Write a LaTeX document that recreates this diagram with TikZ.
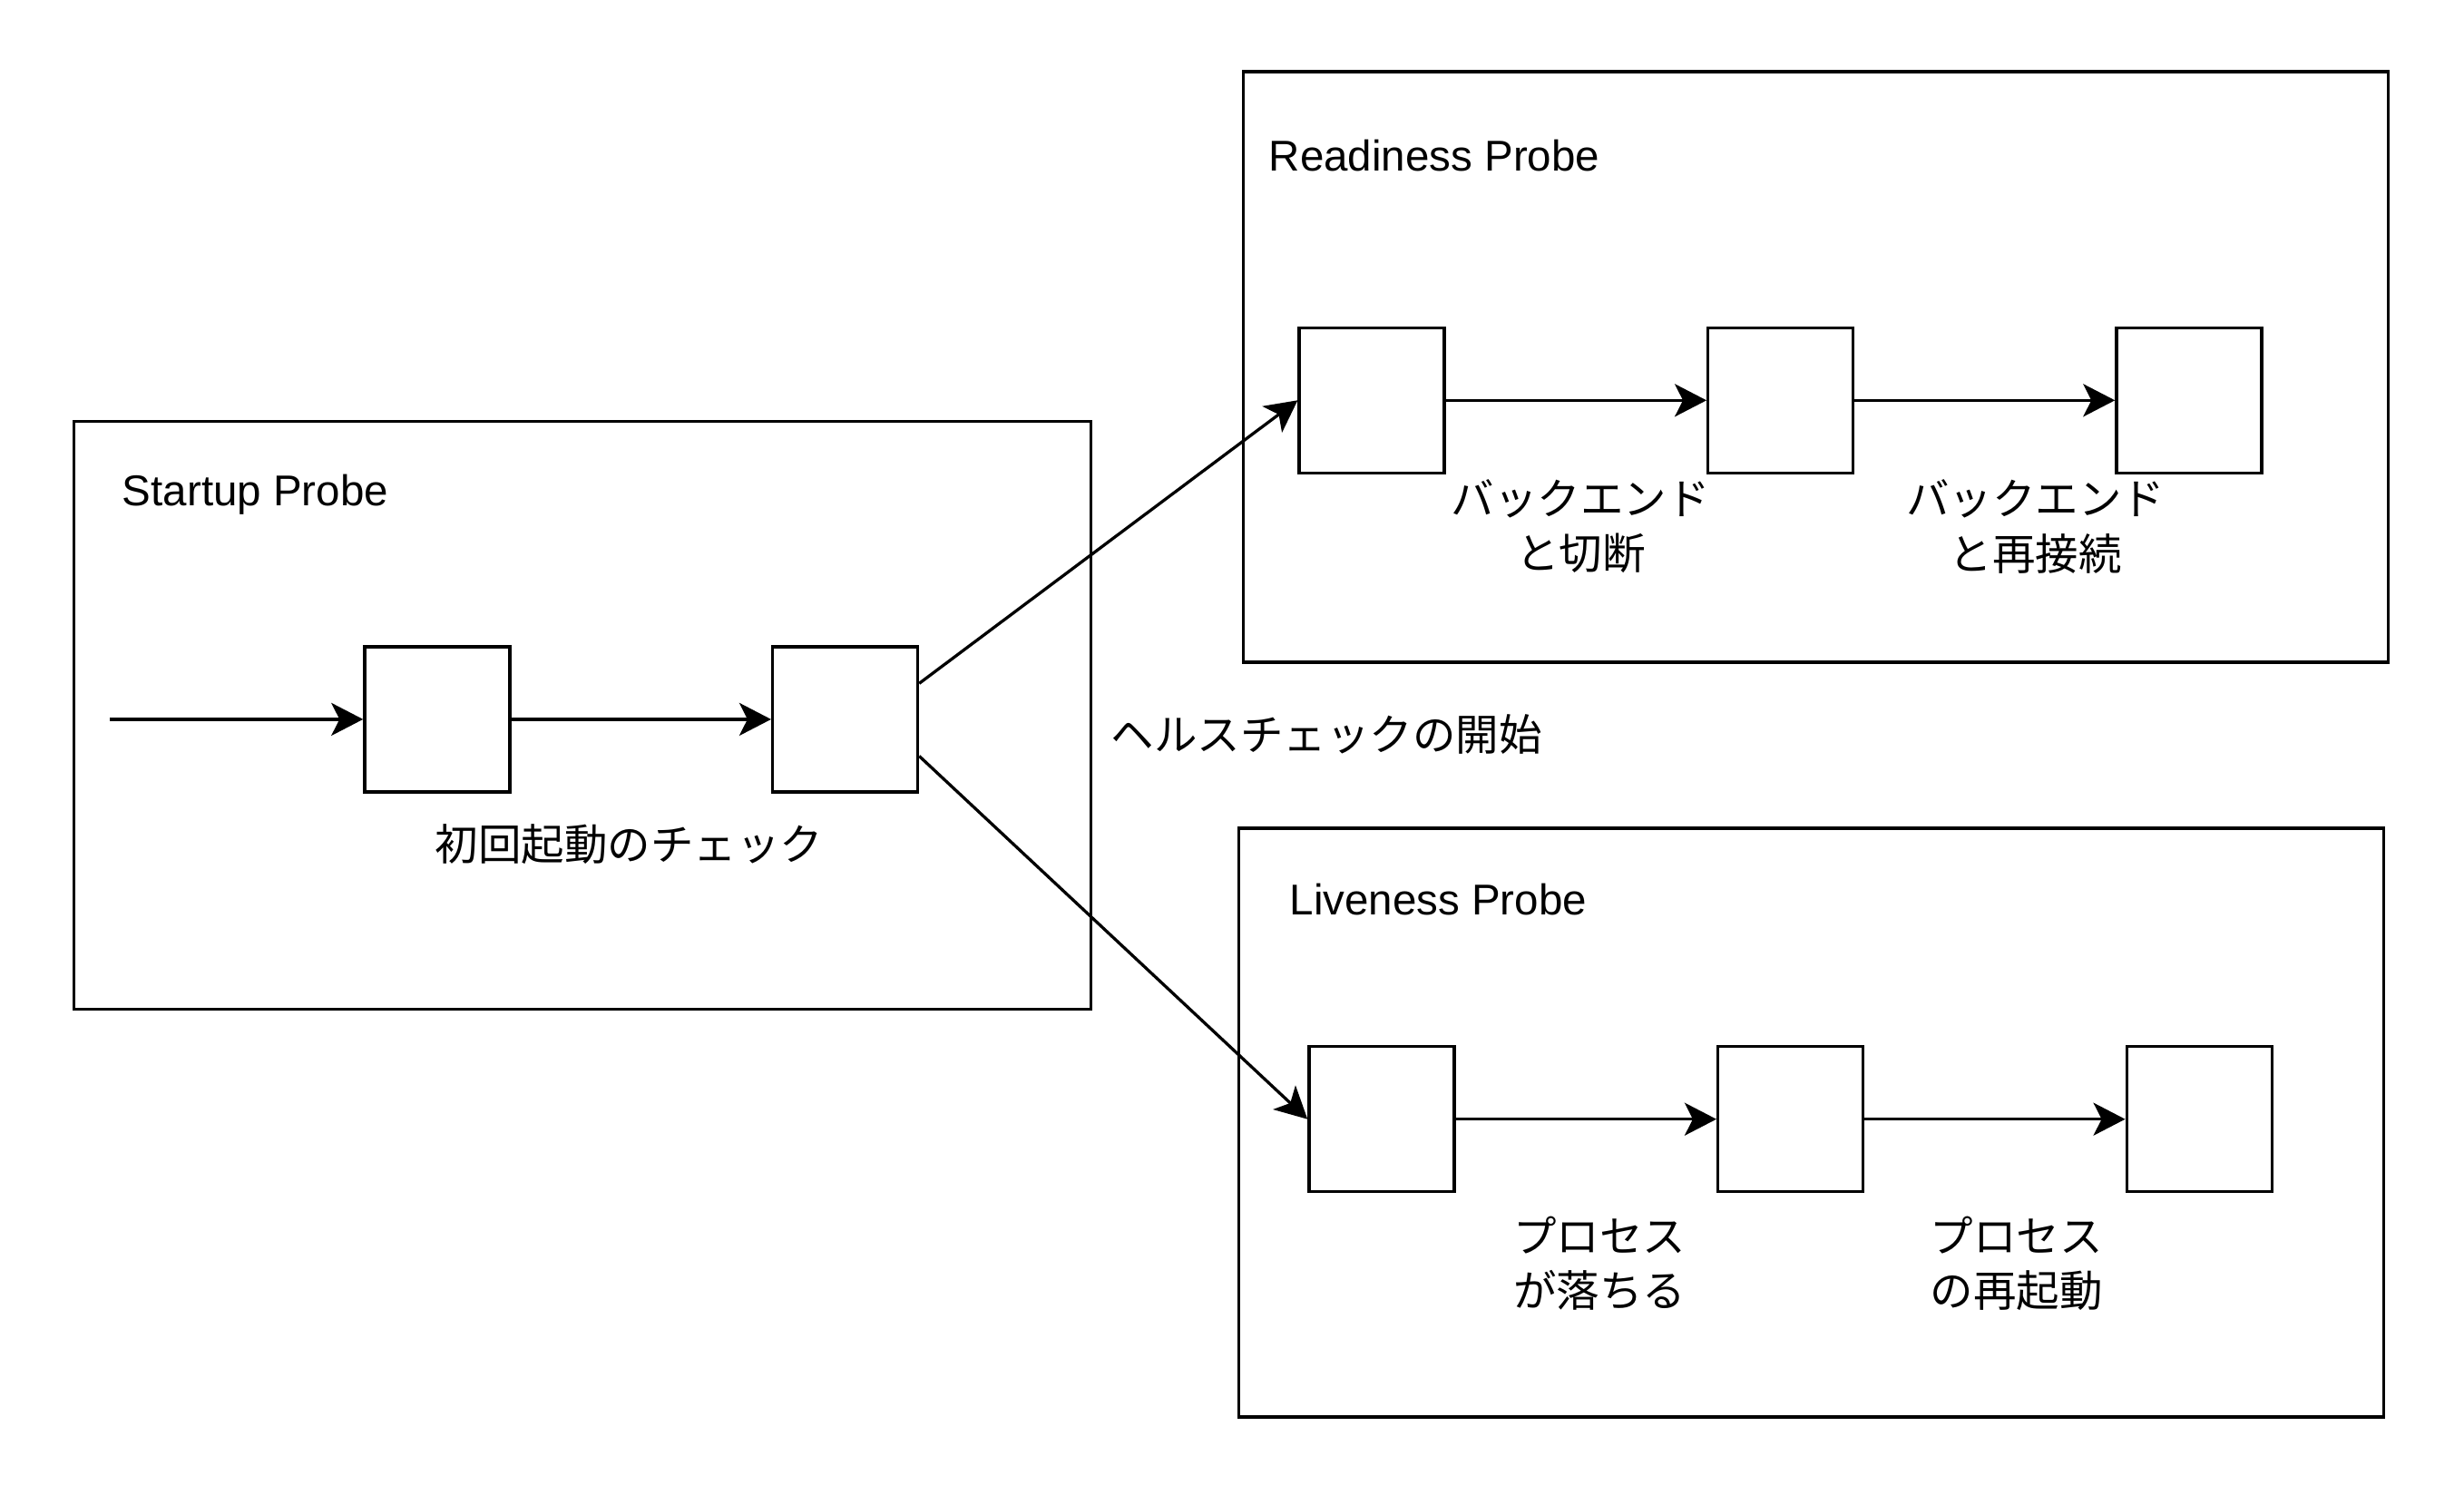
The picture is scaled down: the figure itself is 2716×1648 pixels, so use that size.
\documentclass[tikz,border=0pt]{standalone}
\usepackage{fontspec}
\setmainfont{Liberation Sans}
\newfontfamily\jp{Noto Sans CJK JP}
\usetikzlibrary{arrows.meta}
\begin{document}
\begin{tikzpicture}[x=1pt,y=-1pt,
  frame/.style={draw,line width=3.3pt,inner sep=0pt},
  stepbox/.style={draw,line width=3.3pt,minimum width=160pt,minimum height=160pt,inner sep=0pt},
  title/.style={anchor=west,inner sep=0pt,font=\fontsize{47.5}{57}\selectfont},
  lbl/.style={align=center,inner sep=0pt,font=\fontsize{47.5}{60.4}\selectfont\jp},
  arr/.style={line width=3.3pt,-{Stealth[length=35pt,width=36pt,inset=9pt]}}
]
\fill[white] (0,0) rectangle (2716,1648);
\useasboundingbox (0,0) rectangle (2716,1648);

% containers
\node[frame,minimum width=1121pt,minimum height=648pt] (startup) at (641.8,788.4) {};
\node[frame,minimum width=1262pt,minimum height=651pt] (ready) at (2001.8,404.6) {};
\node[frame,minimum width=1262pt,minimum height=649pt] (live) at (1996.8,1237.6) {};

\node[title] (tstartup) at (134.7,544.8) {Startup Probe};
\node[title] (tready) at (1398.6,171.4) {Readiness Probe};
\node[title] (tlive) at (1421.4,991.5) {Liveness Probe};

% boxes
\node[stepbox] (s1) at (481.9,792.9) {};
\node[stepbox] (s2) at (931.6,792.9) {};
\node[stepbox] (r1) at (1512.0,441.3) {};
\node[stepbox] (r2) at (1962.7,441.3) {};
\node[stepbox] (r3) at (2412.9,441.3) {};
\node[stepbox] (l1) at (1522.9,1233.7) {};
\node[stepbox] (l2) at (1973.6,1233.7) {};
\node[stepbox] (l3) at (2424.2,1233.7) {};

% labels
\node[lbl] (ls) at (693.4,931.1) {初回起動のチェック};
\node[lbl] (lr1) at (1742.3,580.4) {バックエンド\\と切断};
\node[lbl] (lr2) at (2243.5,580.4) {バックエンド\\と再接続};
\node[lbl] (ll1) at (1763.1,1392.6) {プロセス\\が落ちる};
\node[lbl] (ll2) at (2222.7,1392.6) {プロセス\\の再起動};
\node[lbl,anchor=west] (lh) at (1224.3,809.2) {ヘルスチェックの開始};

% connectors
\coordinate (in) at (120.8,792.9);
\draw[arr] (in) -- (s1.west);
\draw[arr] (s1) -- (s2);
\draw[arr] ([yshift=39.6pt]s2.east) -- (r1.west);
\draw[arr] ([yshift=-40.6pt]s2.east) -- (l1.west);
\draw[arr] (r1) -- (r2);
\draw[arr] (r2) -- (r3);
\draw[arr] (l1) -- (l2);
\draw[arr] (l2) -- (l3);
\end{tikzpicture}
\end{document}
